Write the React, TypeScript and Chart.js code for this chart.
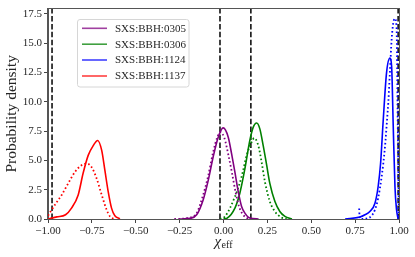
import React, { useEffect, useRef } from "react";
import { Chart, registerables } from "chart.js";

Chart.register(...registerables);

// ---- data ----
const purpleSolidX = [-0.25, -0.191, -0.153, -0.116, -0.087, -0.059, -0.03, -0.002, 0.027, 0.046, 0.065, 0.084, 0.103, 0.122, 0.15, 0.2];
const purpleSolidY = [0.0, 0.05, 0.36, 1.63, 3.3, 5.29, 6.98, 7.77, 6.98, 5.57, 4.0, 2.33, 1.07, 0.5, 0.08, 0.0];
const purpleDotX = [-0.28, -0.2, -0.153, -0.116, -0.087, -0.059, -0.035, -0.017, 0.005, 0.03, 0.05, 0.07, 0.09, 0.11, 0.14, 0.18];
const purpleDotY = [0.0, 0.1, 0.5, 2.05, 3.7, 5.7, 7.0, 7.4, 6.9, 5.3, 3.8, 2.2, 1.0, 0.4, 0.05, 0.0];

const greenSolidX = [0.0, 0.018, 0.065, 0.093, 0.122, 0.15, 0.169, 0.189, 0.207, 0.226, 0.246, 0.264, 0.293, 0.321, 0.35, 0.39];
const greenSolidY = [0.0, 0.05, 0.93, 2.2, 4.3, 6.7, 7.82, 8.19, 7.69, 6.28, 4.59, 3.04, 1.49, 0.64, 0.22, 0.0];
const greenDotX = [-0.02, 0.008, 0.065, 0.103, 0.132, 0.16, 0.175, 0.198, 0.217, 0.236, 0.264, 0.293, 0.331, 0.36];
const greenDotY = [0.0, 0.2, 1.9, 3.6, 5.43, 6.55, 6.9, 6.28, 4.87, 3.18, 1.49, 0.64, 0.13, 0.0];

const blueSolidX = [0.693, 0.777, 0.806, 0.834, 0.863, 0.881, 0.895, 0.91, 0.929, 0.948, 0.958, 0.967, 0.977, 0.986, 0.995];
const blueSolidY = [0.0, 0.17, 0.36, 0.64, 1.35, 2.75, 4.73, 8.4, 12.47, 13.73, 13.0, 8.0, 2.75, 0.8, 0.0];
const blueDotX = [0.773, 0.775, 0.78, 0.82, 0.844, 0.863, 0.881, 0.901, 0.92, 0.933, 0.939, 0.948, 0.958, 0.967, 0.977, 0.986, 0.993, 1.0];
const blueDotY = [0.9, 0.3, 0.0, 0.05, 0.28, 0.79, 1.77, 3.6, 6.13, 8.67, 9.93, 12.47, 15.3, 16.7, 17.1, 16.4, 8.0, 0.0];

const redSolidX = [-1.0, -0.979, -0.95, -0.9, -0.866, -0.828, -0.8, -0.771, -0.742, -0.717, -0.694, -0.676, -0.657, -0.638, -0.619, -0.59];
const redSolidY = [0.0, 0.08, 0.18, 0.36, 0.93, 2.05, 3.9, 5.43, 6.27, 6.7, 5.85, 4.16, 2.33, 0.93, 0.28, 0.02];
const redDotX = [-1.0, -0.961, -0.922, -0.885, -0.847, -0.809, -0.78, -0.752, -0.723, -0.694, -0.666, -0.647, -0.625];
const redDotY = [0.28, 1.2, 2.05, 3.04, 4.0, 4.59, 4.73, 4.44, 3.46, 2.05, 0.79, 0.22, 0.0];

const verticalLines = [-0.977, -0.02, 0.156, 0.995];

const legendLabels = ["SXS:BBH:0305", "SXS:BBH:0306", "SXS:BBH:1124", "SXS:BBH:1137"];
const seriesColors = ["#800080", "#008000", "#0000ff", "#ff0000"];

const xTicks = [-1.0, -0.75, -0.5, -0.25, 0.0, 0.25, 0.5, 0.75, 1.0];
const yTicks = [0.0, 2.5, 5.0, 7.5, 10.0, 12.5, 15.0, 17.5];
const Y_MAX = 17.95;

const FONT = "'Liberation Serif', 'DejaVu Serif', serif";

function pts(xs: number[], ys: number[]) {
  return xs.map((x, i) => ({ x, y: ys[i] }));
}

const legendPlugin = {
  id: "mplLegend",
  afterDraw(chart: any) {
    const ctx = chart.ctx;
    ctx.save();
    const x0 = 77.5, y0 = 19.5, w = 111.5, h = 67.5, r = 2.5;
    ctx.beginPath();
    ctx.moveTo(x0 + r, y0);
    ctx.lineTo(x0 + w - r, y0);
    ctx.quadraticCurveTo(x0 + w, y0, x0 + w, y0 + r);
    ctx.lineTo(x0 + w, y0 + h - r);
    ctx.quadraticCurveTo(x0 + w, y0 + h, x0 + w - r, y0 + h);
    ctx.lineTo(x0 + r, y0 + h);
    ctx.quadraticCurveTo(x0, y0 + h, x0, y0 + h - r);
    ctx.lineTo(x0, y0 + r);
    ctx.quadraticCurveTo(x0, y0, x0 + r, y0);
    ctx.closePath();
    ctx.fillStyle = "rgba(255,255,255,0.8)";
    ctx.fill();
    ctx.strokeStyle = "#d6d6d6";
    ctx.lineWidth = 1;
    ctx.stroke();
    const rows = [28.3, 44.2, 60.0, 76.0];
    legendLabels.forEach((lab, i) => {
      ctx.globalAlpha = 0.75;
      ctx.strokeStyle = seriesColors[i];
      ctx.lineWidth = 1.6;
      ctx.beginPath();
      ctx.moveTo(82, rows[i]);
      ctx.lineTo(107, rows[i]);
      ctx.stroke();
      ctx.globalAlpha = 1;
      ctx.fillStyle = "#262626";
      ctx.font = `11px ${FONT}`;
      ctx.textBaseline = "middle";
      ctx.textAlign = "left";
      ctx.fillText(lab, 115, rows[i] + 0.5);
    });
    ctx.restore();
  },
};

const framePlugin = {
  id: "frame",
  afterDatasetsDraw(chart: any) {
    const { ctx, chartArea } = chart;
    ctx.save();
    ctx.strokeStyle = "#555";
    ctx.lineWidth = 1;
    ctx.strokeRect(
      Math.round(chartArea.left) - 0.5,
      Math.round(chartArea.top) - 0.5,
      Math.round(chartArea.right - chartArea.left) + 1,
      Math.round(chartArea.bottom - chartArea.top) + 1
    );
    ctx.restore();
  },
  afterDraw(chart: any) {
    const { ctx, chartArea } = chart;
    ctx.save();
    ctx.fillStyle = "#262626";
    // y title
    ctx.translate(12, (chartArea.top + chartArea.bottom) / 2);
    ctx.rotate(-Math.PI / 2);
    ctx.font = `15.5px ${FONT}`;
    ctx.textAlign = "center";
    ctx.textBaseline = "middle";
    ctx.fillText("Probability density", 0, 0);
    ctx.restore();
    // x title chi_eff
    ctx.save();
    ctx.fillStyle = "#262626";
    const cx = (chartArea.left + chartArea.right) / 2;
    ctx.font = `italic 15px ${FONT}`;
    const wChi = ctx.measureText("\u03c7").width;
    ctx.font = `10px ${FONT}`;
    const wSub = ctx.measureText("eff").width;
    const start = cx - (wChi + wSub + 0.5) / 2;
    ctx.textBaseline = "alphabetic";
    ctx.textAlign = "left";
    ctx.font = `italic 15px ${FONT}`;
    ctx.fillText("\u03c7", start, 246);
    ctx.font = `10px ${FONT}`;
    ctx.fillText("eff", start + wChi + 0.5, 248);
    ctx.restore();
  },
};

export default function App() {
  const ref = useRef<HTMLCanvasElement | null>(null);

  useEffect(() => {
    document.body.style.margin = "0";
    const canvas = ref.current;
    if (!canvas) return;

    const solid = (data: any, color: string, label: string) => ({
      label,
      data,
      borderColor: color,
      backgroundColor: color,
      borderWidth: 1.6,
      pointRadius: 0,
      fill: false,
      cubicInterpolationMode: "monotone" as const,
    });
    const dotted = (data: any, color: string) => ({
      label: "",
      data,
      borderColor: color,
      backgroundColor: color,
      borderWidth: 1.8,
      borderDash: [1.6, 2.4],
      pointRadius: 0,
      fill: false,
      cubicInterpolationMode: "monotone" as const,
    });

    const datasets: any[] = [
      solid(pts(purpleSolidX, purpleSolidY), seriesColors[0], legendLabels[0]),
      dotted(pts(purpleDotX, purpleDotY), seriesColors[0]),
      solid(pts(greenSolidX, greenSolidY), seriesColors[1], legendLabels[1]),
      dotted(pts(greenDotX, greenDotY), seriesColors[1]),
      solid(pts(blueSolidX, blueSolidY), seriesColors[2], legendLabels[2]),
      dotted(pts(blueDotX, blueDotY), seriesColors[2]),
      solid(pts(redSolidX, redSolidY), seriesColors[3], legendLabels[3]),
      dotted(pts(redDotX, redDotY), seriesColors[3]),
      ...verticalLines.map((v) => ({
        label: "",
        data: [
          { x: v, y: 0 },
          { x: v, y: Y_MAX },
        ],
        borderColor: "#000",
        borderWidth: 1.5,
        borderDash: [5.5, 2.4],
        pointRadius: 0,
        fill: false,
      })),
    ];

    const chart = new Chart(canvas, {
      type: "line",
      data: { datasets },
      options: {
        animation: false,
        responsive: false,
        devicePixelRatio: 1,
        layout: { padding: { top: 7, right: 16, left: 0, bottom: 0 } },
        plugins: { legend: { display: false }, tooltip: { enabled: false } },
        scales: {
          x: {
            type: "linear",
            min: -1,
            max: 1,
            afterBuildTicks: (s: any) => {
              s.ticks = xTicks.map((v) => ({ value: v }));
            },
            afterFit: (s: any) => {
              s.height = 38;
            },
            ticks: {
              font: { family: FONT, size: 11 },
              color: "#262626",
              padding: 2,
              maxRotation: 0,
              autoSkip: false,
              callback: (v: any) => Number(v).toFixed(2).replace("-", "\u2212"),
            },
            grid: { drawOnChartArea: false, drawTicks: true, tickLength: 4, color: "#444" },
            border: { display: true, color: "#555" },
          },
          y: {
            type: "linear",
            min: 0,
            max: Y_MAX,
            afterBuildTicks: (s: any) => {
              s.ticks = yTicks.map((v) => ({ value: v }));
            },
            afterFit: (s: any) => {
              s.width = 48;
            },
            ticks: {
              font: { family: FONT, size: 11 },
              color: "#262626",
              padding: 2,
              autoSkip: false,
              callback: (v: any) => Number(v).toFixed(1),
            },
            grid: { drawOnChartArea: false, drawTicks: true, tickLength: 4, color: "#444" },
            border: { display: true, color: "#555" },
          },
        },
      },
      plugins: [framePlugin, legendPlugin],
    });

    return () => chart.destroy();
  }, []);

  return (
    <div style={{ position: "absolute", left: 0, top: 0, width: 415, height: 257 }}>
      <canvas ref={ref} width={415} height={257} style={{ width: 415, height: 257 }} />
    </div>
  );
}
